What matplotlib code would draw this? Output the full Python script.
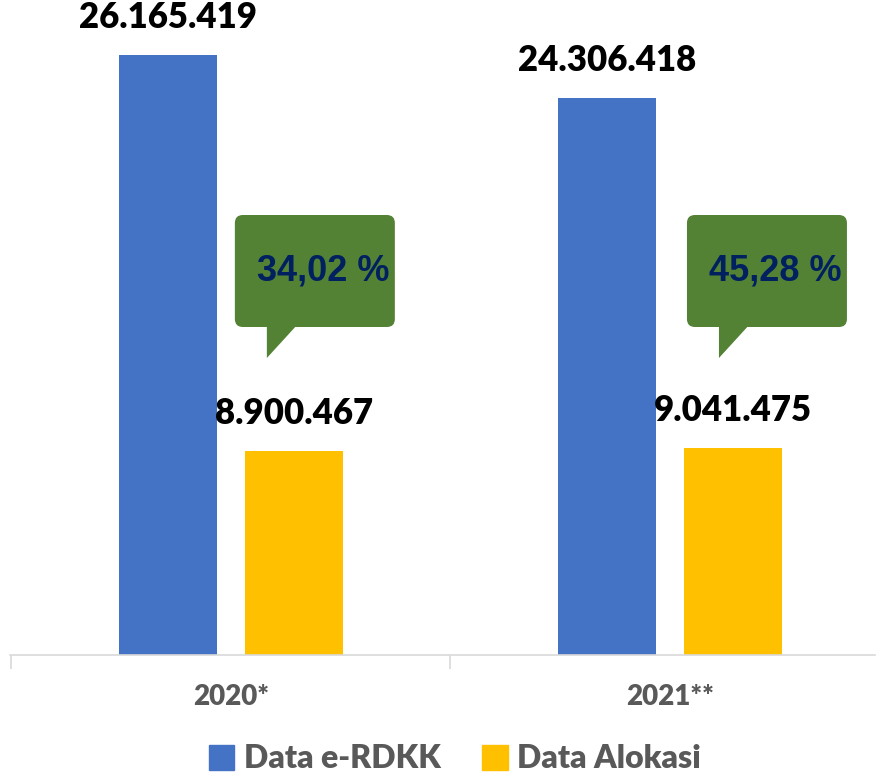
import matplotlib
matplotlib.use("Agg")
import matplotlib.pyplot as plt
from matplotlib.patches import FancyBboxPatch, Polygon, Patch
from matplotlib.transforms import Affine2D, ScaledTranslation
import numpy as np

years = ["2020*", "2021**"]
erdkk = [26165419, 24306418]
alokasi = [8900467, 9041475]
persen = ["34,02 %", "45,28 %"]

def fmt(v):
    return f"{v:,}".replace(",", ".")

fig = plt.figure(figsize=(8.84, 7.78), dpi=100)
# baseline at y=655 px from top, axes covers up to the top edge
ax = fig.add_axes([10 / 884, 123 / 778, 865 / 884, 655 / 778])

x = np.arange(len(years))
w = 0.223
off = 0.1435
ax.bar(x - off, erdkk, width=w, color="#4472C4")
ax.bar(x + off, alokasi, width=w, color="#FFC000")

px = 26165419 / 600.0  # value per pixel
ax.set_ylim(0, 655 * px)
ax.set_xlim(-0.503, 1.467)

for i in range(len(years)):
    ax.text(x[i] - off, erdkk[i] + 21 * px, fmt(erdkk[i]), ha="center", va="bottom",
            fontsize=25, fontweight="heavy", family="Lato", color="black")
    ax.text(x[i] + off, alokasi[i] + 21 * px, fmt(alokasi[i]), ha="center", va="bottom",
            fontsize=25, fontweight="heavy", family="Lato", color="black")

# callouts (offsets in pixels from the category centre at the baseline)
box_left = [4, 17]
for i in range(len(years)):
    tr = Affine2D() + ScaledTranslation(x[i], 0, ax.transData)
    bl = box_left[i]
    box = FancyBboxPatch((bl, 328), 160, 112, boxstyle="round,pad=0,rounding_size=8",
                         transform=tr, facecolor="#548235", edgecolor="none", clip_on=False)
    ax.add_patch(box)
    tail = Polygon([(bl + 32, 332), (bl + 64, 332), (bl + 32, 297)], closed=True,
                   transform=tr, facecolor="#548235", edgecolor="none", clip_on=False)
    ax.add_patch(tail)
    ax.text(bl + 88, 384, persen[i], transform=tr, ha="center", va="center",
            fontsize=26, fontweight="bold", family="Liberation Sans", color="#002060")

for s in ["top", "right", "left"]:
    ax.spines[s].set_visible(False)
ax.spines["bottom"].set_color("#D9D9D9")
ax.spines["bottom"].set_linewidth(1.2)
ax.set_yticks([])
ax.set_xticks([-0.5, 0.5], minor=False)
ax.set_xticklabels([])
ax.tick_params(axis="x", length=10, color="#D9D9D9", width=1.2)

for i in range(len(years)):
    ax.text(x[i], -42 * px, years[i], ha="center", va="center", fontsize=20,
            fontweight="heavy", family="Lato", color="#595959", clip_on=False)

handles = [Patch(color="#4472C4", label="Data e-RDKK"), Patch(color="#FFC000", label="Data Alokasi")]
leg = fig.legend(handles=handles, loc="center", bbox_to_anchor=(455 / 884, 19 / 778), ncol=2,
                 frameon=False, prop={"family": "Lato", "weight": "heavy", "size": 23},
                 handlelength=0.8, handleheight=0.8, handletextpad=0.3, columnspacing=1.3,
                 borderpad=0.1)
for t in leg.get_texts():
    t.set_color("#595959")

fig.savefig("out.png", dpi=100)
